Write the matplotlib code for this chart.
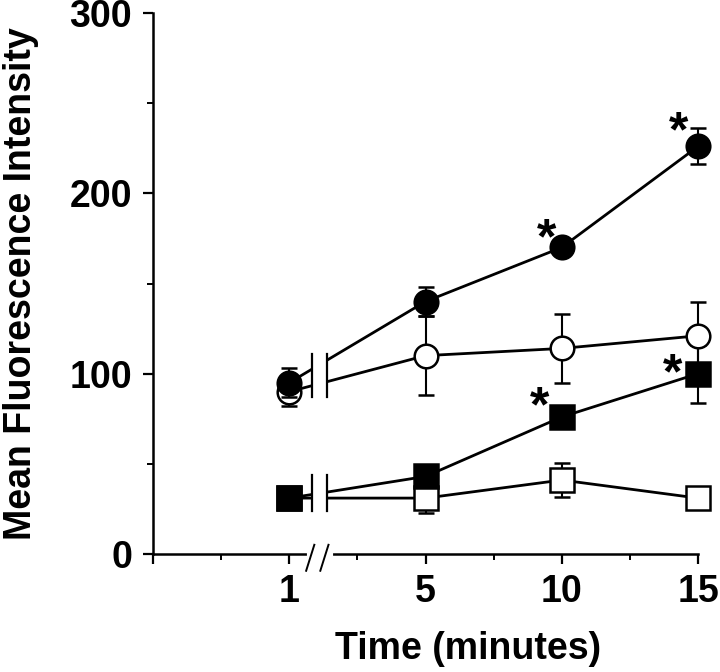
import matplotlib

matplotlib.use("Agg")
import matplotlib.pyplot as plt
import numpy as np

plt.rcParams["font.family"] = ["Liberation Sans", "DejaVu Sans"]
plt.rcParams["font.weight"] = "bold"

# 横軸: "1" は軸の切れ目の左側に置く（位置 0）
time_labels = ["1", "5", "10", "15"]
xpos = np.array([0, 5, 10, 15])

# 平均蛍光強度と誤差（片側）
filled_circle = [95, 140, 170, 226]
filled_circle_err = [8, 8, 0, 10]
open_circle = [90, 110, 114, 121]
open_circle_err = [8, 22, 19, 19]
filled_square = [31, 43, 76, 100]
filled_square_err = [0, 0, 0, 16]
open_square = [31, 31, 41, 31]
open_square_err = [0, 8, 9.5, 0]

# 有意差マーク (*) の位置
star_x = [9.45, 14.3, 9.2, 14.05]
star_y = [174, 233, 81, 99]

# 線の切れ目
gap_x = (0.85, 1.40)
gap_circle = (87, 111)
gap_square = (24, 44)

fig = plt.figure(figsize=(7.2, 6.72), dpi=100)
ax = fig.add_axes([153 / 720, 1 - 554 / 672, 545 / 720, 541 / 672])

series = [
    (open_square, open_square_err, "s", "white"),
    (filled_square, filled_square_err, "s", "black"),
    (open_circle, open_circle_err, "o", "white"),
    (filled_circle, filled_circle_err, "o", "black"),
]
for z, (y, err, m, fc) in enumerate(series):
    ax.errorbar(xpos, y, yerr=err, fmt="-" + m, color="black", mfc=fc, mec="black",
                ms=17, mew=1.8, lw=2.0, elinewidth=1.5, capsize=6, capthick=1.5,
                zorder=3 + z, clip_on=False)

# 線の切れ目（白抜き + 縦棒）
for lo, hi in (gap_circle, gap_square):
    ax.fill_between(gap_x, lo, hi, color="white", zorder=10, lw=0)
    for gx in gap_x:
        ax.plot([gx, gx], [lo, hi], color="black", lw=1.6, zorder=11)

for sx, sy in zip(star_x, star_y):
    ax.text(sx, sy, "*", fontsize=36, fontweight="bold", ha="center", va="center", zorder=12)

ax.set_xlim(-5, 15)
ax.set_ylim(0, 300)
ax.spines["top"].set_visible(False)
ax.spines["right"].set_visible(False)
for s in ("left", "bottom"):
    ax.spines[s].set_linewidth(1.8)

ax.set_xticks([-5, 0, 5, 10, 15])
ax.set_xticklabels([""] + time_labels)
ax.set_xticks([-2.5, 2.5, 7.5, 12.5], minor=True)
ax.set_yticks([0, 100, 200, 300])
ax.set_yticks([50, 150, 250], minor=True)
ax.tick_params(which="major", direction="out", length=7.2, width=1.6, labelsize=27)
ax.tick_params(which="minor", direction="out", length=4.3, width=1.4)
ax.tick_params(axis="x", pad=7)
ax.tick_params(axis="y", pad=8)

# 横軸の切れ目 "//"
tr = ax.get_xaxis_transform()
ax.plot([0.72, 1.52], [0, 0], color="white", lw=3, transform=tr, clip_on=False, zorder=20)
for x0 in (0.62, 1.14):
    ax.plot([x0, x0 + 0.3], [-0.031, 0.017], color="black", lw=1.4, transform=tr,
            clip_on=False, zorder=21)

ax.set_xlabel("Time (minutes)", fontsize=27, fontweight="bold", va="center")
ax.xaxis.set_label_coords(0.578, -0.1756)
ax.set_ylabel("Mean Fluorescence Intensity", fontsize=27, fontweight="bold", va="center")
ax.yaxis.set_label_coords(-0.242, 0.5)

fig.savefig("out.png", dpi=100)
